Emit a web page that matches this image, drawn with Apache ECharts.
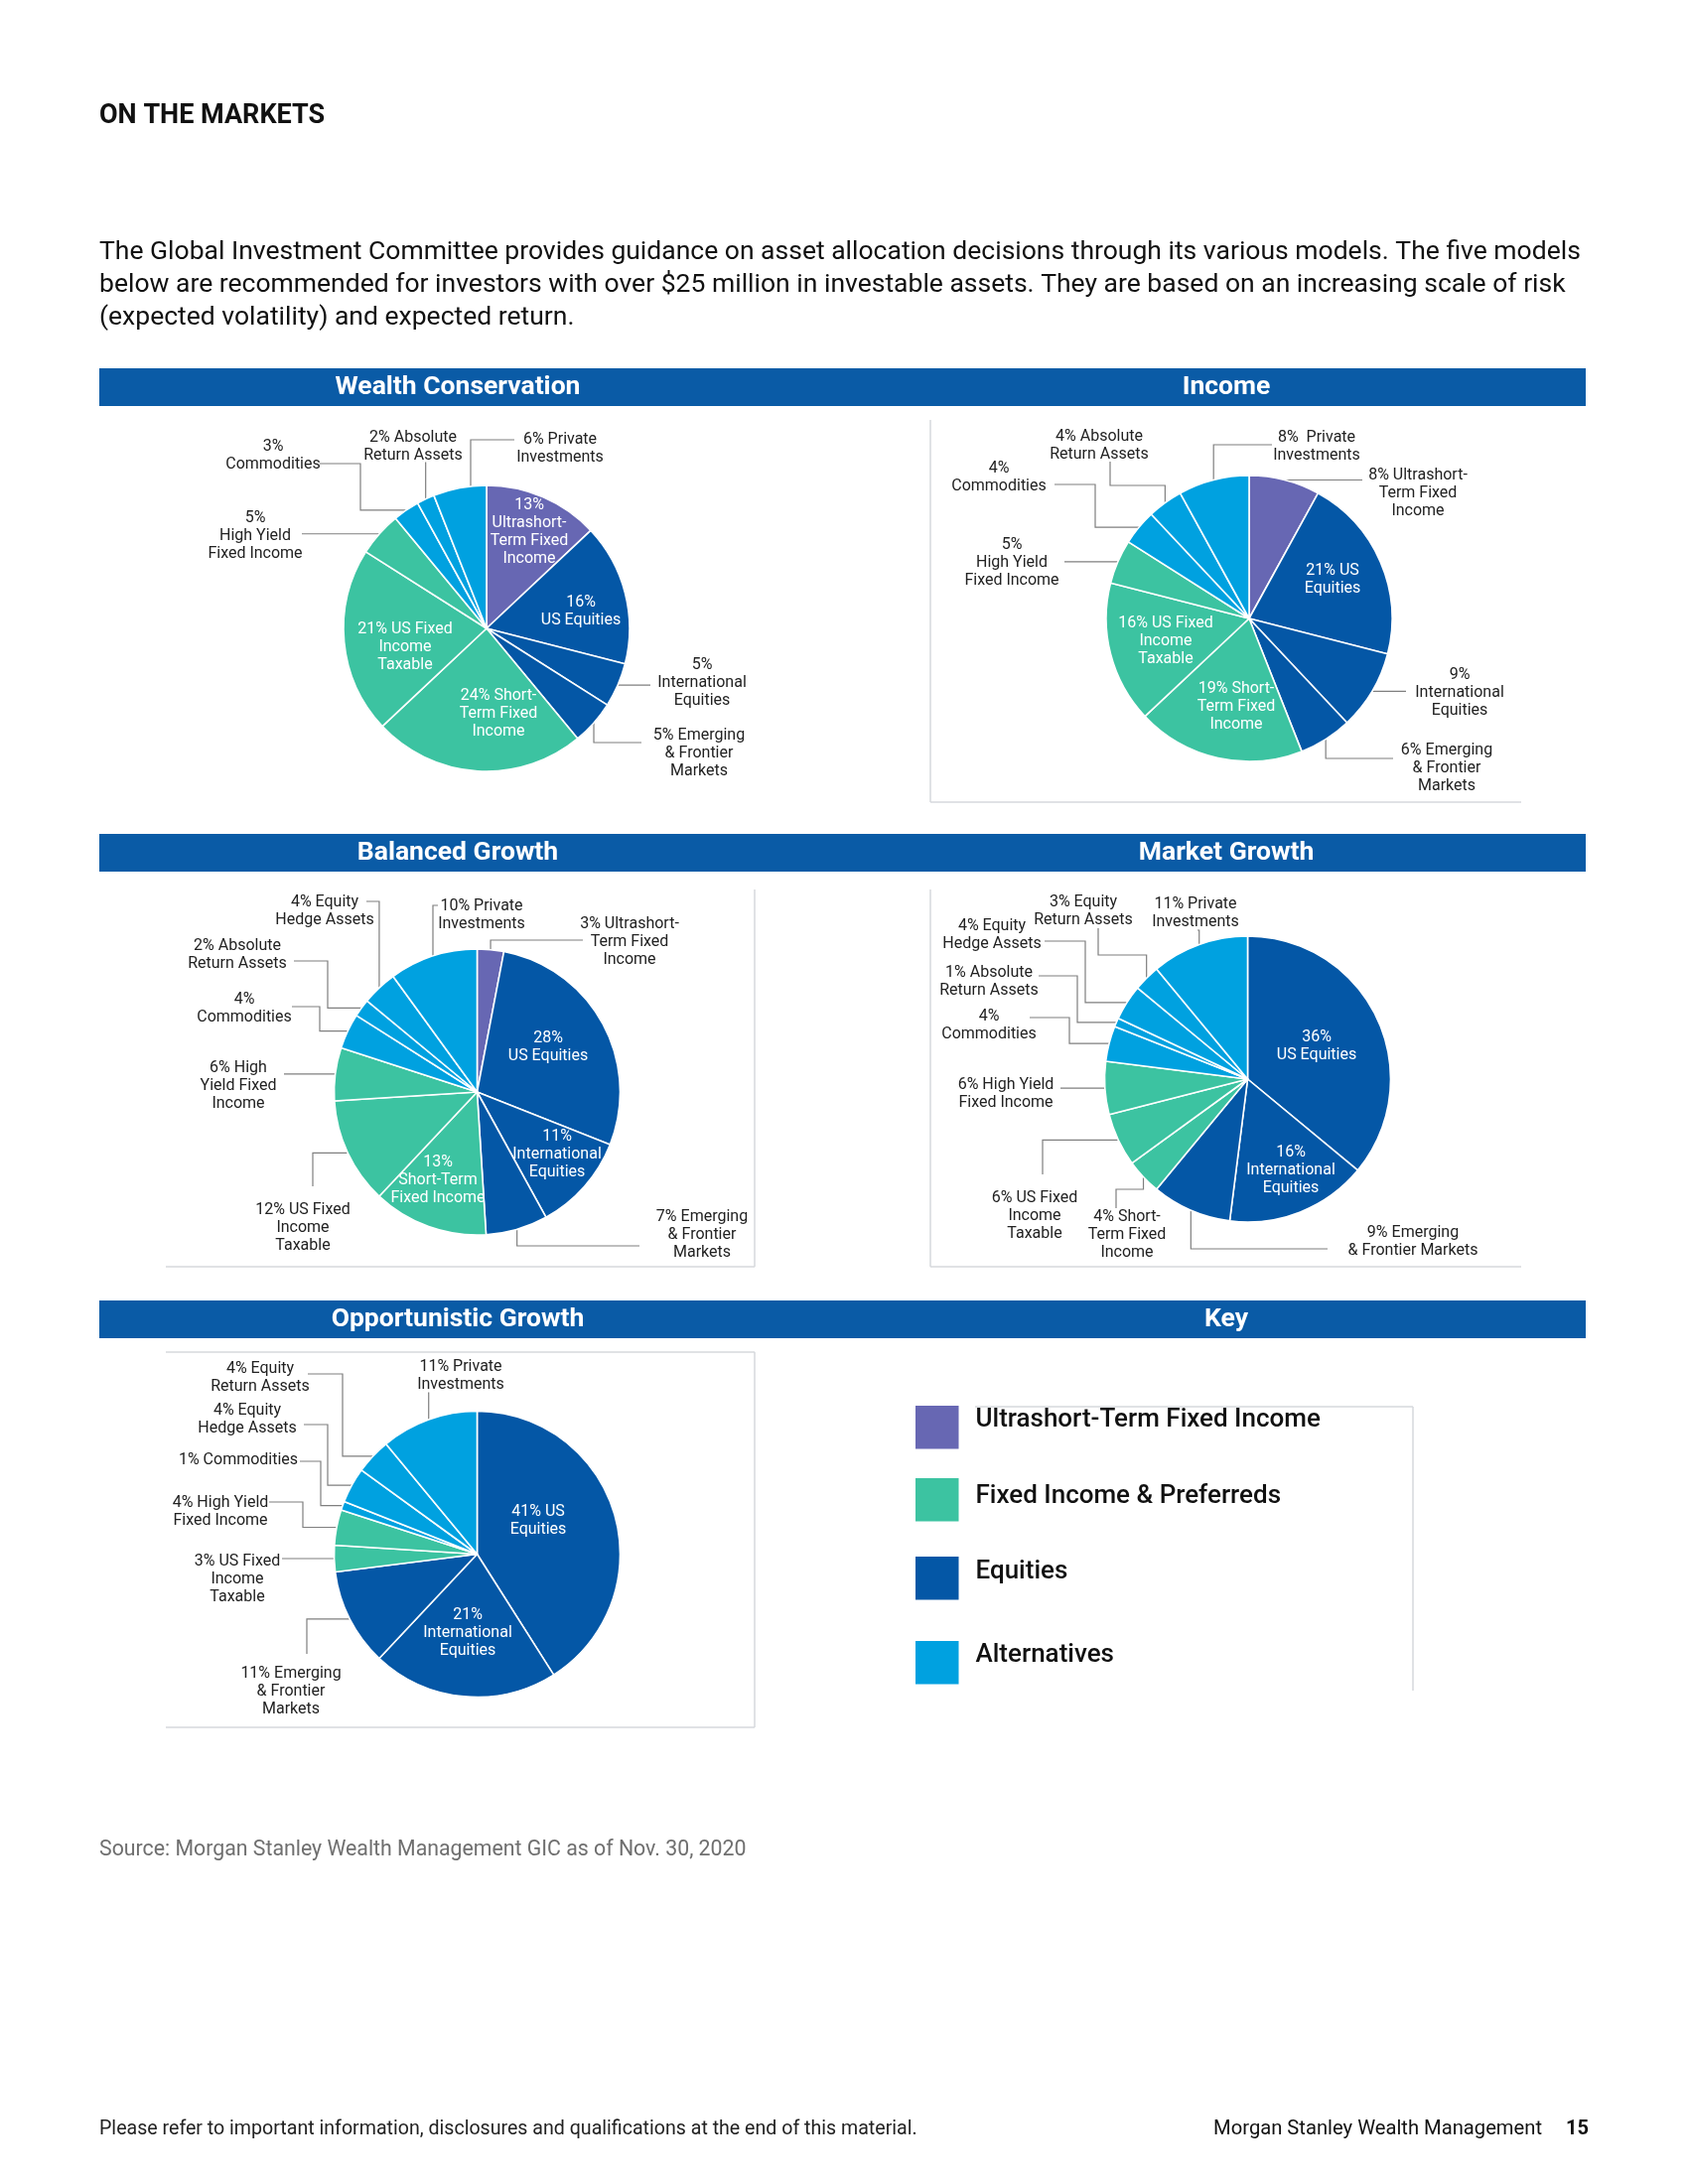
<!DOCTYPE html>
<html>
<head>
<meta charset="utf-8">
<script src="https://cdn.jsdelivr.net/npm/echarts@6/dist/echarts.min.js"></script>
<style>
  html, body { margin: 0; padding: 0; background: #fff; }
  #chart { width: 1700px; height: 2200px; }
</style>
</head>
<body>
<div id="chart"></div>
<script>
// ---------------- DATA ----------------
// Wealth Conservation
const wcNames = ['Ultrashort-Term Fixed Income','US Equities','International Equities','Emerging & Frontier Markets','Short-Term Fixed Income','US Fixed Income Taxable','High Yield Fixed Income','Commodities','Absolute Return Assets','Private Investments'];
const wcValues = [13,16,5,5,24,21,5,3,2,6];
const wcGroups = ['U','E','E','E','F','F','F','A','A','A'];
const wcText = ['{p}\nUltrashort-\nTerm Fixed\nIncome','{p}\nUS Equities','{p}\nInternational\nEquities','{p} Emerging\n& Frontier\nMarkets','{p} Short-\nTerm Fixed\nIncome','{p} US Fixed\nIncome\nTaxable','{p}\nHigh Yield\nFixed Income','{p}\nCommodities','{p} Absolute\nReturn Assets','{p} Private\nInvestments'];

// Income
const inNames = ['Ultrashort-Term Fixed Income','US Equities','International Equities','Emerging & Frontier Markets','Short-Term Fixed Income','US Fixed Income Taxable','High Yield Fixed Income','Commodities','Absolute Return Assets','Private Investments'];
const inValues = [8,21,9,6,19,16,5,4,4,8];
const inGroups = ['U','E','E','E','F','F','F','A','A','A'];
const inText = ['{p} Ultrashort-\nTerm Fixed\nIncome','{p} US\nEquities','{p}\nInternational\nEquities','{p} Emerging\n& Frontier\nMarkets','{p} Short-\nTerm Fixed\nIncome','{p} US Fixed\nIncome\nTaxable','{p}\nHigh Yield\nFixed Income','{p}\nCommodities','{p} Absolute\nReturn Assets','{p}  Private\nInvestments'];

// Balanced Growth
const bgNames = ['Ultrashort-Term Fixed Income','US Equities','International Equities','Emerging & Frontier Markets','Short-Term Fixed Income','US Fixed Income Taxable','High Yield Fixed Income','Commodities','Absolute Return Assets','Equity Hedge Assets','Private Investments'];
const bgValues = [3,28,11,7,13,12,6,4,2,4,10];
const bgGroups = ['U','E','E','E','F','F','F','A','A','A','A'];
const bgText = ['{p} Ultrashort-\nTerm Fixed\nIncome','{p}\nUS Equities','{p}\nInternational\nEquities','{p} Emerging\n& Frontier\nMarkets','{p}\nShort-Term\nFixed Income','{p} US Fixed\nIncome\nTaxable','{p} High\nYield Fixed\nIncome','{p}\nCommodities','{p} Absolute\nReturn Assets','{p} Equity\nHedge Assets','{p} Private\nInvestments'];

// Market Growth
const mgNames = ['US Equities','International Equities','Emerging & Frontier Markets','Short-Term Fixed Income','US Fixed Income Taxable','High Yield Fixed Income','Commodities','Absolute Return Assets','Equity Hedge Assets','Equity Return Assets','Private Investments'];
const mgValues = [36,16,9,4,6,6,4,1,4,3,11];
const mgGroups = ['E','E','E','F','F','F','A','A','A','A','A'];
const mgText = ['{p}\nUS Equities','{p}\nInternational\nEquities','{p} Emerging\n& Frontier Markets','{p} Short-\nTerm Fixed\nIncome','{p} US Fixed\nIncome\nTaxable','{p} High Yield\nFixed Income','{p}\nCommodities','{p} Absolute\nReturn Assets','{p} Equity\nHedge Assets','{p} Equity\nReturn Assets','{p} Private\nInvestments'];

// Opportunistic Growth
const ogNames = ['US Equities','International Equities','Emerging & Frontier Markets','US Fixed Income Taxable','High Yield Fixed Income','Commodities','Equity Hedge Assets','Equity Return Assets','Private Investments'];
const ogValues = [41,21,11,3,4,1,4,4,11];
const ogGroups = ['E','E','E','F','F','A','A','A','A'];
const ogText = ['{p} US\nEquities','{p}\nInternational\nEquities','{p} Emerging\n& Frontier\nMarkets','{p} US Fixed\nIncome\nTaxable','{p} High Yield\nFixed Income','{p} Commodities','{p} Equity\nHedge Assets','{p} Equity\nReturn Assets','{p} Private\nInvestments'];

// Key
const keyGroups = ['U','F','E','A'];
const keyLabels = ['Ultrashort-Term Fixed Income','Fixed Income & Preferreds','Equities','Alternatives'];

// Panel titles
const panelTitles = ['Wealth Conservation','Income','Balanced Growth','Market Growth','Opportunistic Growth','Key'];

// Texts
const pageHeading = 'ON THE MARKETS';
const introLines = [
  'The Global Investment Committee provides guidance on asset allocation decisions through its various models. The five models',
  'below are recommended for investors with over $25 million in investable assets. They are based on an increasing scale of risk',
  '(expected volatility) and expected return.'
];
const sourceText = 'Source: Morgan Stanley Wealth Management GIC as of Nov. 30, 2020';
const footerLeft = 'Please refer to important information, disclosures and qualifications at the end of this material.';
const footerRight = 'Morgan Stanley Wealth Management';
const pageNumber = '15';

// ---------------- STYLE / LAYOUT ----------------
const COLORS = { U: '#6767b3', F: '#3cc3a1', E: '#0457a6', A: '#00a1e0' };
const BAR = '#0a5ba6';
const FONT = 'Roboto';
const R = 144;

// label layout: in = inside label centre; at = label centre, a = line anchor, r = route, m = elbow
const wcLayout = [
  {in:[533,536]}, {in:[585,616]},
  {at:[707,688], a:[655,688], r:'h'},
  {at:[704,759], a:[646,748], r:'vh'},
  {in:[502,719]}, {in:[408,652]},
  {at:[257,540], a:[304,541], r:'h'},
  {at:[275,459], a:[322,467], r:'hvh', m:363},
  {at:[416,450], a:[428,466], r:'vh'},
  {at:[564,452], a:[518,443], r:'hvh', m:474}
];
const inLayout = [
  {at:[1428,497], a:[1372,491], r:'h'},
  {in:[1342,584]},
  {at:[1470,698], a:[1416,698], r:'h'},
  {at:[1457,774], a:[1403,764], r:'vh'},
  {in:[1245,712]}, {in:[1174,646]},
  {at:[1019,567], a:[1072,564], r:'h'},
  {at:[1006,481], a:[1062,488], r:'hvh', m:1103},
  {at:[1107,449], a:[1118,465], r:'vhv', m:489},
  {at:[1326,450], a:[1281,448], r:'vh'}
];
const bgLayout = [
  {at:[634,949], a:[587,947], r:'vh'},
  {in:[552,1055]}, {in:[561,1163]},
  {at:[707,1244], a:[644,1255], r:'vh'},
  {in:[441,1189]},
  {at:[305,1237], a:[315,1195], r:'hv'},
  {at:[240,1094], a:[286,1096], r:'h'},
  {at:[246,1016], a:[294,1014], r:'hvh', m:322},
  {at:[239,962], a:[296,968], r:'hvh', m:330},
  {at:[327,918], a:[369,908], r:'vh'},
  {at:[485,922], a:[441,912], r:'vh'}
];
const mgLayout = [
  {in:[1326,1054]}, {in:[1300,1179]},
  {at:[1423,1251], a:[1337,1258], r:'vh'},
  {at:[1135,1244], a:[1124,1217], r:'vhv', m:1198},
  {at:[1042,1225], a:[1050,1183], r:'hv'},
  {at:[1013,1102], a:[1068,1096], r:'h'},
  {at:[996,1033], a:[1037,1025], r:'hvh', m:1077},
  {at:[996,989], a:[1046,983], r:'hvh', m:1085},
  {at:[999,942], a:[1052,948], r:'hvh', m:1093},
  {at:[1091,918], a:[1106,935], r:'vhv', m:962},
  {at:[1204,920], a:[1206,937], r:'vh'}
];
const ogLayout = [
  {in:[542,1532]}, {in:[471,1645]},
  {at:[293,1704], a:[309,1666], r:'hv'},
  {at:[239,1591], a:[284,1573], r:'h'},
  {at:[222,1523], a:[271,1513], r:'hvh', m:305},
  {at:[240,1471], a:[302,1472], r:'hvh', m:323},
  {at:[249,1430], a:[306,1435], r:'hvh', m:330},
  {at:[262,1388], a:[310,1384], r:'hvh', m:345},
  {at:[464,1386], a:[431,1403], r:'vh'}
];

function route(e, L) {
  const ex = e[0], ey = e[1], ax = L.a[0], ay = L.a[1];
  switch (L.r) {
    case 'h':   return [[ex,ey],[ax,ey]];
    case 'vh':  return [[ex,ey],[ex,ay],[ax,ay]];
    case 'hv':  return [[ex,ey],[ax,ey],[ax,ay]];
    case 'hvh': return [[ex,ey],[L.m,ey],[L.m,ay],[ax,ay]];
    case 'vhv': return [[ex,ey],[ex,L.m],[ax,L.m],[ax,ay]];
  }
  return [[ex,ey],[ax,ay]];
}

function makePie(center, names, values, groups, texts, layout) {
  return {
    type: 'pie',
    center: center,
    radius: R,
    startAngle: 90,
    clockwise: true,
    avoidLabelOverlap: false,
    silent: true,
    animation: false,
    itemStyle: { borderColor: '#ffffff', borderWidth: 1.6 },
    label: {
      fontFamily: FONT, fontSize: 16, lineHeight: 17.7, align: 'center',
      formatter: p => texts[p.dataIndex].replace('{p}', p.value + '%')
    },
    labelLine: { show: true, length: 8, length2: 8, lineStyle: { color: '#7f7f7f', width: 1.2 } },
    data: names.map((n, i) => ({
      name: n,
      value: values[i],
      itemStyle: { color: COLORS[groups[i]] },
      label: layout[i].in ? { position: 'inside', color: '#ffffff' } : { position: 'outside', color: '#222222' },
      labelLine: { show: !layout[i].in }
    })),
    labelLayout: function (params) {
      const L = layout[params.dataIndex];
      if (L.in) return { x: L.in[0], y: L.in[1], align: 'center', verticalAlign: 'middle' };
      const out = { x: L.at[0], y: L.at[1], align: 'center', verticalAlign: 'middle' };
      if (params.labelLinePoints && params.labelLinePoints.length) {
        out.labelLinePoints = route(params.labelLinePoints[0], L);
      }
      return out;
    }
  };
}

// ---------------- GRAPHICS ----------------
const graphics = [];
function txt(x, y, text, size, opts) {
  opts = opts || {};
  graphics.push({
    type: 'text', x: x, y: y, silent: true,
    style: {
      text: text, fill: opts.color || '#111', fontFamily: opts.family || FONT,
      fontSize: size, fontWeight: opts.weight || 'normal',
      align: opts.align || 'left', verticalAlign: 'middle'
    }
  });
}
function line(x1, y1, x2, y2) {
  graphics.push({ type: 'line', silent: true, shape: { x1, y1, x2, y2 }, style: { stroke: '#d6d9dd', lineWidth: 1.5 } });
}

txt(100, 117, pageHeading, 27, { weight: 'bold' });
const introY = [254, 287, 320];
introLines.forEach((l, i) => txt(100, introY[i], l, 26.5));

const barTops = [371, 840, 1310];
const colCenters = [461, 1235];
barTops.forEach((t, i) => {
  graphics.push({ type: 'rect', silent: true, shape: { x: 100, y: t, width: 1497, height: 38 }, style: { fill: BAR } });
  txt(colCenters[0], t + 19, panelTitles[i * 2], 26.5, { weight: 'bold', color: '#ffffff', align: 'center' });
  txt(colCenters[1], t + 19, panelTitles[i * 2 + 1], 26.5, { weight: 'bold', color: '#ffffff', align: 'center' });
});

// panel borders
line(937, 423, 937, 808); line(937, 808, 1532, 808);          // Income
line(760, 896, 760, 1276); line(167, 1276, 760, 1276);        // Balanced Growth
line(937, 896, 937, 1276); line(937, 1276, 1532, 1276);       // Market Growth
line(167, 1362, 760, 1362); line(760, 1362, 760, 1740); line(167, 1740, 760, 1740); // Opportunistic
line(982, 1417, 1423, 1417); line(1423, 1417, 1423, 1703);    // Key

// key
const keyTops = [1416, 1489, 1568, 1653];
const keyTextY = [1430, 1507, 1583, 1667];
keyGroups.forEach((g, i) => {
  graphics.push({ type: 'rect', silent: true, shape: { x: 922, y: keyTops[i], width: 43.5, height: 43.5 }, style: { fill: COLORS[g] } });
  txt(982.5, keyTextY[i], keyLabels[i], 26, { weight: 500, color: '#111' });
});

txt(100, 1864, sourceText, 21.3, { color: '#6f6f6f' });
txt(100, 2145, footerLeft, 19.6, { color: '#222' });
txt(1553, 2145, footerRight, 20.2, { color: '#111', align: 'right' });
txt(1600, 2145, pageNumber, 20, { color: '#111', align: 'right', weight: 'bold' });

// ---------------- CHART ----------------
const chart = echarts.init(document.getElementById('chart'), null, { renderer: 'canvas', width: 1700, height: 2200 });
chart.setOption({
  backgroundColor: '#ffffff',
  animation: false,
  graphic: graphics,
  series: [
    makePie([490, 633], wcNames, wcValues, wcGroups, wcText, wcLayout),
    makePie([1258, 623], inNames, inValues, inGroups, inText, inLayout),
    makePie([480.5, 1100], bgNames, bgValues, bgGroups, bgText, bgLayout),
    makePie([1256.5, 1087], mgNames, mgValues, mgGroups, mgText, mgLayout),
    makePie([480.5, 1565.5], ogNames, ogValues, ogGroups, ogText, ogLayout)
  ]
});
</script>
</body>
</html>
